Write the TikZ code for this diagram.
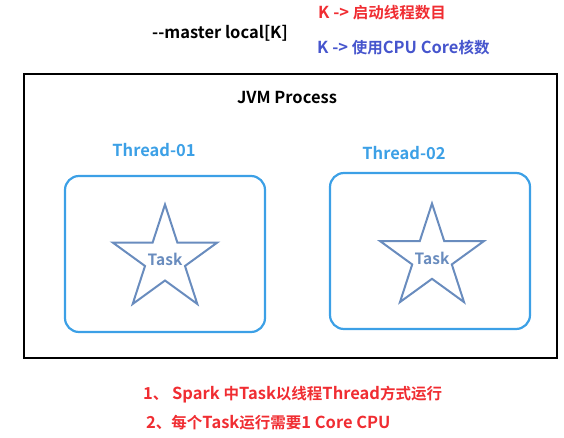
\documentclass[tikz,border=0pt]{standalone}
\usepackage{fontspec}
\setmainfont{Noto Sans CJK SC}[BoldFont={* Bold}]
\usetikzlibrary{shapes.geometric}
\definecolor{redtxt}{RGB}{240,45,50}
\definecolor{bluetxt}{RGB}{70,85,205}
\definecolor{threadblue}{RGB}{60,160,230}
\definecolor{starblue}{RGB}{105,140,190}
\newcommand{\zh}[1]{{\fontsize{15.5}{17}\selectfont\bfseries #1}}
\begin{document}
\begin{tikzpicture}[x=1pt,y=-1pt,
  lbl/.style={font=\fontsize{16.5}{18}\selectfont\bfseries, inner sep=0pt},
  threadbox/.style={draw=threadblue, line width=2.2pt, rounded corners=14pt},
  tstar/.style={draw=starblue, line width=2pt, star, star points=5, star point ratio=2.618, inner sep=0pt,
    label={[text=starblue, font=\fontsize{15.5}{17}\selectfont\bfseries, inner sep=0pt]center:Task}}]
\useasboundingbox (0,0) rectangle (564,438);
\node[lbl, anchor=west] (cmd) at (152,33) {-{}-master local[K]};
\node[lbl, anchor=west, text=redtxt] (k1) at (318,13) {K -> \zh{启动线程数目}};
\node[lbl, anchor=west, text=bluetxt] (k2) at (317,48) {K -> \zh{使用}CPU Core\zh{核数}};
\draw[line width=2.4pt] (24,74) rectangle (557,358);
\node[lbl] (jvm) at (287,98) {JVM Process};
\node[lbl, text=threadblue] (t1) at (154,150) {Thread-01};
\node[lbl, text=threadblue] (t2) at (404,153) {Thread-02};
\draw[threadbox] (65,176) rectangle (265,332);
\draw[threadbox] (330,173) rectangle (530,329);
\node[tstar, minimum size=110pt] (s1) at (165,259.5) {};
\node[tstar, minimum size=109pt] (s2) at (432,258) {};
\node[lbl, anchor=west, text=redtxt] (n1) at (143,395) {1\zh{、} Spark \zh{中}Task\zh{以线程}Thread\zh{方式运行}};
\node[lbl, anchor=west, text=redtxt] (n2) at (146,423) {2\zh{、每个}Task\zh{运行需要}1 Core CPU};
\end{tikzpicture}
\end{document}
